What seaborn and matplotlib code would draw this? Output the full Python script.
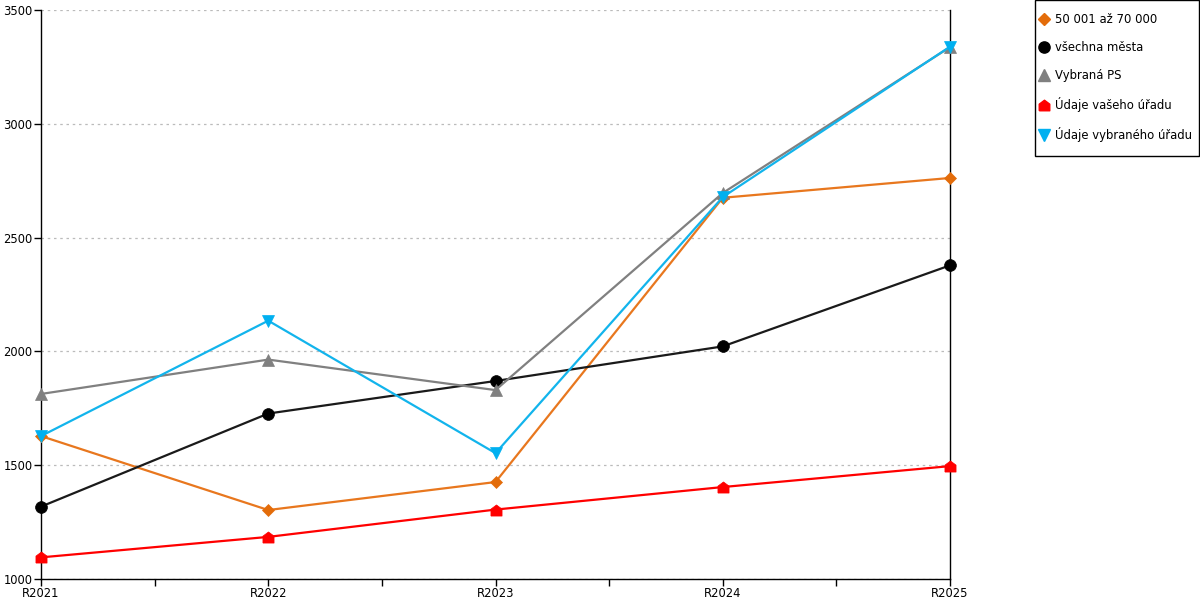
import matplotlib
matplotlib.use("Agg")
import matplotlib.pyplot as plt
import seaborn as sns
import pandas as pd
import numpy as np
from matplotlib.ticker import MultipleLocator
from matplotlib.lines import Line2D
from matplotlib.patches import Rectangle

years = ["R2021", "R2022", "R2023", "R2024", "R2025"]
s_5070 = [1628, 1303, 1426, 2675, 2762]
s_vsechna = [1318, 1727, 1870, 2022, 2378]
s_ps = [1813, 1964, 1830, 2696, 3337]
s_vas = [1095, 1185, 1305, 1404, 1496]
s_vybr = [1628, 2135, 1553, 2678, 3339]

names = ["50 001 až 70 000", "všechna města", "Vybraná PS",
         "Údaje vašeho úřadu", "Údaje vybraného úřadu"]
values = [s_5070, s_vsechna, s_ps, s_vas, s_vybr]
colors = ["#E8771E", "#1a1a1a", "#808080", "#FF0000", "#12B4EC"]
mcolors = ["#E36C0A", "#000000", "#808080", "#FF0000", "#00B0F0"]
house = [(-1, -1), (1, -1), (1, 0.25), (0, 1), (-1, 0.25), (-1, -1)]
markers = ["D", "o", "^", house, "v"]
msizes = [6, 8.5, 8.5, 8, 8.5]

sns.set_style("white")
plt.rcParams['font.family'] = ['DejaVu Sans']
plt.rcParams['text.color'] = 'black'

fig = plt.figure(figsize=(12, 6), dpi=100)
ax = fig.add_axes([41/1200, 1 - 579/600, (950-41)/1200, (579-10)/600])

for nm, vals, c, mc, mk, ms in zip(names, values, colors, mcolors, markers, msizes):
    df = pd.DataFrame({"x": np.arange(len(years)), "y": vals})
    sns.lineplot(data=df, x="x", y="y", ax=ax, color=c, linewidth=1.6,
                 marker=mk, markersize=ms, markerfacecolor=mc, markeredgecolor=mc,
                 markeredgewidth=0.5, label=nm, clip_on=False, zorder=3)

ax.set_xlim(0, 4)
ax.set_ylim(1000, 3500)
ax.set_xticks(range(len(years)))
ax.set_xticklabels(years)
ax.xaxis.set_minor_locator(MultipleLocator(0.5))
ax.set_yticks(range(1000, 3501, 500))
ax.set_xlabel("")
ax.set_ylabel("")
ax.yaxis.grid(True, color="#bbbbbb", linestyle=(0, (2, 3)), linewidth=0.9)
ax.xaxis.grid(False)
ax.set_axisbelow(True)
for side in ["left", "bottom", "right"]:
    ax.spines[side].set_visible(True)
    ax.spines[side].set_color("black")
    ax.spines[side].set_linewidth(1.0)
ax.spines["top"].set_visible(False)
ax.tick_params(axis="both", which="both", direction="out", length=5, width=1,
               color="black", labelcolor="black", labelsize=8.3, pad=1,
               bottom=True, left=True)
ax.tick_params(axis="x", which="both", pad=0.5)
ax.get_legend().remove()

hs = []
for mc, mk, ms in zip(mcolors, markers, msizes):
    hs.append(Line2D([], [], linestyle="none", marker=mk, markersize=ms*0.95,
                     markerfacecolor=mc, markeredgecolor=mc))
leg = fig.legend(hs, names, loc="upper left",
                 bbox_to_anchor=(1040.5/1200, 1 - 12.75/600),
                 frameon=False, fontsize=8.4,
                 handlelength=0.6, handletextpad=0.64,
                 labelspacing=1.3, borderpad=0, borderaxespad=0)
fig.patches.append(Rectangle((1034.5/1200, 1 - 155.5/600), 164/1200, 155/600,
                             transform=fig.transFigure, fill=False,
                             edgecolor="black", linewidth=1.0))

fig.savefig("out.png", dpi=100)
